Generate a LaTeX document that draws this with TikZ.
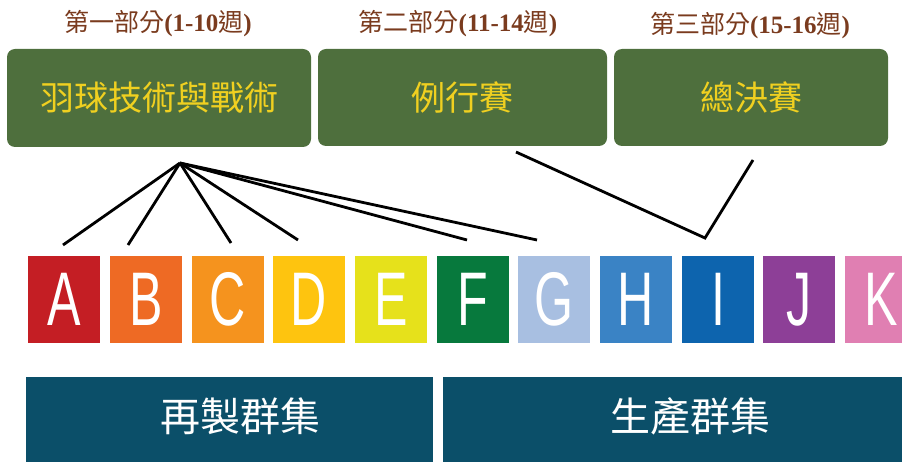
\documentclass[tikz,border=0pt]{standalone}
\usepackage{fontspec}
\setmainfont{Liberation Serif}
\newfontfamily\cjk{Noto Sans CJK TC}
\newfontfamily\tilefont{Liberation Sans}
\definecolor{boxgreen}{HTML}{4E6F3D}
\definecolor{goldtext}{HTML}{F0D020}
\definecolor{headbrown}{HTML}{7A3B1E}
\definecolor{navy}{HTML}{0B4F69}
\definecolor{cA}{HTML}{C41E24}
\definecolor{cB}{HTML}{EE6A24}
\definecolor{cC}{HTML}{F5931E}
\definecolor{cD}{HTML}{FEC40F}
\definecolor{cE}{HTML}{E6E11B}
\definecolor{cF}{HTML}{07793D}
\definecolor{cG}{HTML}{A8BFE1}
\definecolor{cH}{HTML}{3A83C5}
\definecolor{cI}{HTML}{0D64AE}
\definecolor{cJ}{HTML}{8D3F97}
\definecolor{cK}{HTML}{E07FB2}
\begin{document}
\begin{tikzpicture}[x=1pt,y=-1pt,
  header/.style={text=headbrown, font=\fontsize{25}{27}\selectfont\bfseries, inner sep=0pt},
  phasebox/.style={fill=boxgreen, rounded corners=8pt, text=goldtext, font=\cjk\fontsize{34}{36}\selectfont, inner sep=0pt},
  tile/.style={minimum width=72pt, minimum height=87pt, inner sep=0pt, text=white, font=\tilefont\fontsize{76}{78}\selectfont},
  cluster/.style={fill=navy, inner sep=0pt},
  clusterlabel/.style={text=white, font=\cjk\fontsize{40}{42}\selectfont, inner sep=0pt},
  link/.style={line width=2.8pt, black}]
\useasboundingbox (0,0) rectangle (902,462);
\clip (0,0) rectangle (902,462);
% headers
\node[header] (h1) at (158,24) {{\mdseries\cjk 第一部分}(1-10{\mdseries\cjk 週})};
\node[header] (h2) at (458,24) {{\mdseries\cjk 第二部分}(11-14{\mdseries\cjk 週})};
\node[header] (h3) at (750,26) {{\mdseries\cjk 第三部分}(15-16{\mdseries\cjk 週})};
% phase boxes
\node[phasebox, minimum width=304pt, minimum height=98pt] (p1) at (159,98) {\raisebox{-2pt}{羽球技術與戰術}};
\node[phasebox, minimum width=289pt, minimum height=97pt] (p2) at (462.5,97.5) {\raisebox{-2pt}{例行賽}};
\node[phasebox, minimum width=274pt, minimum height=97pt] (p3) at (751,97.5) {\raisebox{-2pt}{總決賽}};
% tiles
\foreach \L/\x in {A/64, B/146, C/227.5, D/309, E/391, F/473, G/554, H/636, I/718, J/799, K/881}{
  \node[tile, fill=c\L] (\L) at (\x,299.5) {\scalebox{0.66}[1]{\L}};
}
% cluster boxes
\node[cluster, minimum width=407pt, minimum height=95pt] (r1) at (229.5,424.5) {};
\node[cluster, minimum width=494pt, minimum height=95pt] (r2) at (690,424.5) {};
\node[clusterlabel] (r1t) at (240,416) {再製群集};
\node[clusterlabel] (r2t) at (690,416) {生產群集};
% connector points
\coordinate (apex) at (180,163);
\coordinate (eA) at (63,245);
\coordinate (eB) at (128,245);
\coordinate (eC) at (231,243);
\coordinate (eD) at (298,240);
\coordinate (eF) at (467,240);
\coordinate (eG) at (537,240);
\coordinate (s2) at (516,152);
\coordinate (vI) at (705,238);
\coordinate (s3) at (753,160);
\foreach \e in {eA,eB,eC,eD,eF,eG}{ \draw[link] (apex) -- (\e); }
\draw[link, line join=miter] (s2) -- (vI) -- (s3);
\end{tikzpicture}
\end{document}
